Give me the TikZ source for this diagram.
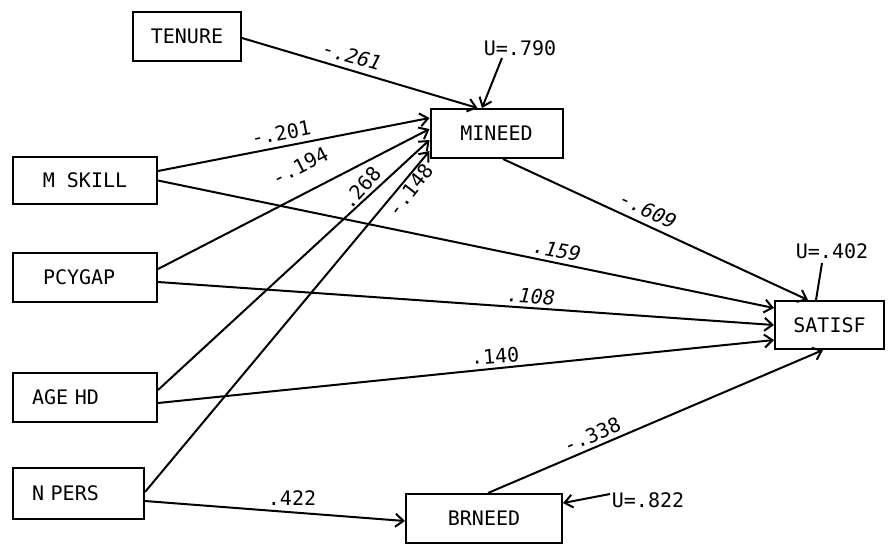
\documentclass[tikz,border=0pt]{standalone}
\usepackage{fontspec}
\setmonofont{DejaVu Sans Mono}
\usetikzlibrary{arrows.meta}
\tikzset{
  varbox/.style={draw, line width=2pt, inner ysep=0pt, inner xsep=0pt,
    minimum height=49pt, font=\ttfamily\fontsize{20}{22}\selectfont},
  leftbox/.style={varbox, align=left, inner xsep=19pt},
  path/.style={line width=2pt, -{Straight Barb[length=8pt,width=13pt,line width=2pt]}},
  plainpath/.style={line width=2pt},
  coef/.style={font=\ttfamily\fontsize{20}{22}\selectfont, inner sep=0pt},
  slcoef/.style={coef, font=\ttfamily\itshape\fontsize{20}{22}\selectfont}
}
\begin{document}
\begin{tikzpicture}[x=1pt,y=-1pt]
\useasboundingbox (0,0) rectangle (891,550);

% variables
\node[varbox, minimum width=108pt] (te) at (187,36.5) {TENURE};
\node[varbox, minimum width=132pt] (mi) at (496.5,133.5) {MINEED};
\node[varbox, minimum width=144pt, minimum height=47pt] (ms) at (85,180.5) {M SKILL};
\node[leftbox, text width=84pt, inner xsep=30pt] (pc) at (85,277.5) {PCYGAP};
\node[leftbox, text width=106pt] (ag) at (85,397.5) {AGE HD};
\node[leftbox, text width=93pt, minimum height=51pt] (np) at (78.5,493.5) {N PERS};
\node[varbox, minimum width=156pt] (br) at (484,518.5) {BRNEED};
\node[varbox, minimum width=109pt, minimum height=48pt] (sa) at (829.5,325) {SATISF};

% residual terms
\node[coef] (u1) at (520,48) {U=.790};
\node[coef] (u2) at (832,251) {U=.402};
\node[coef] (u3) at (648,500) {U=.822};
\coordinate (u1s) at (502,58);
\coordinate (u2s) at (822,263);
\coordinate (u3s) at (610,494);

% paths into MINEED
\draw[path] ([yshift=-1.5pt]te.east) -- ([xshift=-19pt]mi.north);
\draw[path] ([yshift=9.5pt]ms.east) -- ([yshift=15.5pt]mi.west);
\draw[path] ([yshift=8.5pt]pc.east) -- ([yshift=4.5pt]mi.west);
\draw[path] ([yshift=7.5pt]ag.east) -- ([yshift=-6.5pt]mi.west);
\draw[path] ([yshift=1.5pt]np.east) -- ([yshift=-17.5pt]mi.west);
\draw[path] (u1s) -- ([xshift=-14.5pt]mi.north);

% paths into SATISF
\draw[path] ([xshift=6.5pt]mi.south) -- ([xshift=-21.5pt]sa.north);
\draw[path] (ms.east) -- ([yshift=17pt]sa.west);
\draw[path] ([yshift=-4.5pt]pc.east) -- (sa.west);
\draw[path] ([yshift=-5.5pt]ag.east) -- ([yshift=-15pt]sa.west);
\draw[path] ([xshift=4pt]br.north) -- ([xshift=-6.5pt]sa.south);
\draw[plainpath] (u2s) -- ([xshift=-13.5pt]sa.north);

% paths into BRNEED
\draw[path] ([yshift=-7.5pt]np.east) -- ([yshift=-2.5pt]br.west);
\draw[path] (u3s) -- ([yshift=15.5pt]br.east);

% path coefficients
\node[slcoef, rotate=-16] (c1) at (352,56) {-.261};
\node[coef, rotate=11] (c2) at (281,133) {-.201};
\node[coef, rotate=27] (c3) at (300,166) {-.194};
\node[coef, rotate=48] (c4) at (361,188) {.268};
\node[coef, rotate=52] (c5) at (410,190) {-.148};
\node[slcoef, rotate=-25] (c6) at (648,210) {-.609};
\node[slcoef, rotate=-10] (c7) at (557,250) {.159};
\node[slcoef, rotate=-4] (c8) at (531,296) {.108};
\node[coef, rotate=4] (c9) at (495,356) {.140};
\node[coef, rotate=23] (c10) at (592,435) {-.338};
\node[coef] (c11) at (292,498) {.422};
\end{tikzpicture}
\end{document}
